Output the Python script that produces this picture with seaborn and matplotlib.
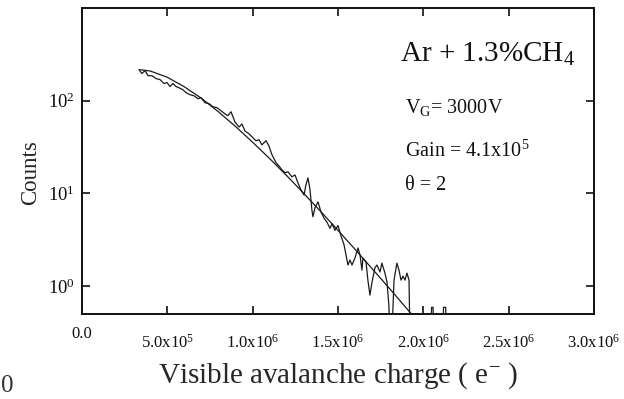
import numpy as np
import matplotlib
matplotlib.use("Agg")
import matplotlib.pyplot as plt
import matplotlib.transforms as mtransforms
import seaborn as sns

# Measured pulse-height spectrum (charge in units of 1e6 electrons, counts per bin).
# Values of 0.3 sit below the axis floor and mark empty bins.
charge_meas = [0.334, 0.351, 0.369, 0.387, 0.410, 0.434, 0.457, 0.480, 0.498, 0.516,
               0.533, 0.551, 0.568, 0.592, 0.609, 0.633, 0.656, 0.680, 0.697, 0.721,
               0.744, 0.767, 0.791, 0.814, 0.838, 0.855, 0.873, 0.896, 0.920, 0.937,
               0.955, 0.978, 0.996, 1.019, 1.037, 1.054, 1.078, 1.095, 1.113, 1.137,
               1.154, 1.172, 1.189, 1.207, 1.230, 1.248, 1.265, 1.283, 1.301, 1.312,
               1.324, 1.336, 1.347, 1.353, 1.365, 1.383, 1.400, 1.418, 1.435, 1.453,
               1.465, 1.482, 1.500, 1.517, 1.535, 1.547, 1.558, 1.570, 1.582, 1.599,
               1.617, 1.629, 1.640, 1.646, 1.664, 1.675, 1.687, 1.699, 1.716, 1.728,
               1.746, 1.757, 1.775, 1.787, 1.798, 1.804, 1.816, 1.828, 1.845, 1.857,
               1.869, 1.881, 1.892, 1.904, 1.916, 1.921, 2.045, 2.048, 2.057, 2.060,
               2.115, 2.118, 2.131, 2.134]
counts_meas = [216, 196, 211, 186, 186, 173, 169, 153, 157, 142,
               153, 142, 138, 131, 122, 116, 113, 105, 108, 95,
               93, 86, 84, 78, 72, 68.9, 76, 59, 52, 56,
               47, 44, 40.8, 37, 37.9, 33.4, 37, 32.6, 26.1, 21.4,
               19.8, 17.9, 16.7, 17.1, 15.1, 15.8, 13.0, 10.9, 9.6, 12.4,
               14.7, 10.9, 6.6, 5.6, 7.0, 8.1, 6.3, 5.4, 4.9, 4.2,
               4.7, 4.0, 4.5, 3.5, 2.8, 2.16, 1.69, 1.91, 1.69, 2.0,
               2.58, 2.16, 1.49, 2.0, 1.82, 1.16, 0.80, 1.10, 1.57, 1.69,
               1.42, 1.77, 1.38, 1.10, 0.62, 0.3, 0.3, 1.16, 1.77, 1.49,
               1.16, 1.28, 1.16, 1.38, 1.16, 0.3, 0.3, 0.59, 0.59, 0.3,
               0.3, 0.59, 0.59, 0.3]

# Polya fit (theta = 2)
charge_fit = [0.34, 0.4, 0.5, 0.6, 0.7, 0.8, 0.9, 1.0, 1.1, 1.2, 1.3,
              1.4, 1.5, 1.6, 1.7, 1.8, 1.9, 2.0]
counts_fit = [216, 209, 179, 141, 106, 75.7, 52.6, 35.6, 23.7, 15.5, 9.96,
              6.34, 3.99, 2.49, 1.54, 0.95, 0.58, 0.353]

xtick_vals = [0.0, 0.5, 1.0, 1.5, 2.0, 2.5, 3.0]
xtick_labels = ["0.0", "5.0x10$^{5}$", "1.0x10$^{6}$", "1.5x10$^{6}$",
                "2.0x10$^{6}$", "2.5x10$^{6}$", "3.0x10$^{6}$"]
ytick_vals = [1, 10, 100]
ytick_labels = ["10$^{0}$", "10$^{1}$", "10$^{2}$"]

sns.set_theme(style="ticks")
plt.rcParams["font.family"] = ["Liberation Serif", "DejaVu Serif"]
plt.rcParams["mathtext.fontset"] = "custom"
plt.rcParams["mathtext.rm"] = "Liberation Serif"
plt.rcParams["mathtext.it"] = "Liberation Serif:italic"
plt.rcParams["mathtext.bf"] = "Liberation Serif:bold"
plt.rcParams["text.color"] = "#111111"

fig = plt.figure(figsize=(6.24, 3.99), dpi=100)
ax = fig.add_axes([0.1314, 0.213, 0.8206, 0.767])

sns.lineplot(x=np.array(charge_meas) * 1e6, y=counts_meas, ax=ax, sort=False,
             estimator=None, color="#1a1a1a", linewidth=0.9)
sns.lineplot(x=np.array(charge_fit) * 1e6, y=counts_fit, ax=ax, sort=False,
             estimator=None, color="#1a1a1a", linewidth=0.9)

ax.set_yscale("log")
ax.set_xlim(0, 3.0e6)
ax.set_ylim(0.5, 1000)
ax.set_xticks(np.array(xtick_vals) * 1e6)
ax.set_xticklabels(xtick_labels, fontsize=12)
ax.set_yticks(ytick_vals)
ax.set_yticklabels(ytick_labels, fontsize=13.5)
ax.yaxis.set_minor_locator(matplotlib.ticker.NullLocator())
ax.tick_params(direction="in", length=6, width=1.2, top=True, right=True,
               colors="#111111")
ax.tick_params(axis="x", pad=14.5)
ax.tick_params(axis="y", pad=5)
for s in ax.spines.values():
    s.set_linewidth(1.4)
    s.set_color("#111111")

# the plain "0.0" label sits higher than the ones carrying exponents
zero_lbl = ax.get_xticklabels()[0]
zero_lbl.set_transform(zero_lbl.get_transform()
                       + mtransforms.ScaledTranslation(0, 8.5 / 100, fig.dpi_scale_trans))

ax.set_xlabel("Visible avalanche charge ( e$^{-}$ )", fontsize=21, labelpad=6)
ax.set_ylabel("Counts", fontsize=16.5)
ax.yaxis.set_label_coords(-0.080, 0.462)

ax.text(0.621, 0.824, "Ar + 1.3%CH$_{4}$", transform=ax.transAxes, fontsize=21)
ax.text(0.630, 0.657, r"V$_{\mathrm{G}}$= 3000V", transform=ax.transAxes, fontsize=14.5)
ax.text(0.630, 0.513, "Gain = 4.1x10$^{5}$", transform=ax.transAxes, fontsize=14.5)
ax.text(0.630, 0.405, "θ = 2", transform=ax.transAxes, fontsize=14.5)

fig.text(0.002, 0.004, "0", fontsize=18, color="#333333", ha="left", va="bottom")

fig.savefig("out.png", dpi=100, facecolor="white")
